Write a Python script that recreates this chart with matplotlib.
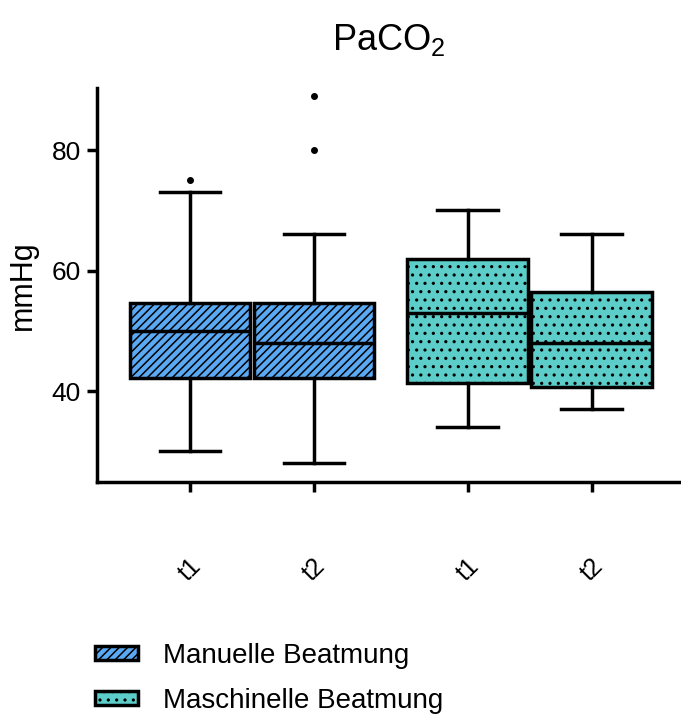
import matplotlib
matplotlib.use("Agg")
import matplotlib.pyplot as plt
from matplotlib.patches import Patch

plt.rcParams["font.family"] = ["Liberation Sans", "DejaVu Sans"]
plt.rcParams["mathtext.fontset"] = "custom"
plt.rcParams["mathtext.rm"] = "Liberation Sans"
plt.rcParams["hatch.linewidth"] = 1.1

# PaCO2 (mmHg) per ventilation mode and time point
groups = ["Manuelle Beatmung", "Maschinelle Beatmung"]
tick_labels = ["t1", "t2", "t1", "t2"]
q1 = [42.1, 42.1, 41.4, 40.6]
median = [50.0, 48.0, 52.9, 48.0]
q3 = [54.6, 54.6, 61.9, 56.4]
whisker_low = [30.0, 28.0, 34.0, 37.0]
whisker_high = [73.0, 66.0, 70.0, 66.0]
outliers = [[75.0], [80.0, 89.0], [], []]
box_group = [0, 0, 1, 1]

colors = ["#5aa9f4", "#5ccdc8"]
hatches = ["////", ".."]
positions = [0, 1, 2.24, 3.24]

stats = []
for i in range(len(median)):
    stats.append(dict(med=median[i], q1=q1[i], q3=q3[i],
                      whislo=whisker_low[i], whishi=whisker_high[i],
                      fliers=outliers[i]))

fig = plt.figure(figsize=(6.81, 7.18), dpi=100)
ax = fig.add_axes([97 / 681, 236 / 718, 584 / 681, 394 / 718])

lw = 2.5
parts = ax.bxp(stats, positions=positions, widths=0.975, patch_artist=True,
               capwidths=0.49,
               boxprops=dict(linewidth=lw, edgecolor="black"),
               medianprops=dict(linewidth=lw, color="black"),
               whiskerprops=dict(linewidth=lw, color="black"),
               capprops=dict(linewidth=lw, color="black"),
               flierprops=dict(marker="o", markersize=4,
                               markerfacecolor="black", markeredgecolor="black"))
for box, g in zip(parts["boxes"], box_group):
    box.set_facecolor(colors[g])
    box.set_hatch(hatches[g])

ax.set_xlim(-0.75, 3.96)
ax.set_ylim(24.9, 90.3)
ax.set_yticks([40, 60, 80])
ax.set_xticks(positions)
ax.set_xticklabels(tick_labels, rotation=45, ha="center", va="center")

for s in ["top", "right"]:
    ax.spines[s].set_visible(False)
for s in ["left", "bottom"]:
    ax.spines[s].set_linewidth(lw)

ax.tick_params(axis="y", length=7.5, width=lw, labelsize=19, pad=4)
ax.tick_params(axis="x", length=7.5, width=lw, labelsize=18, pad=56)

ax.set_ylabel("mmHg", fontsize=22, labelpad=10)
ax.set_title("PaCO$_\\mathregular{2}$", fontsize=26, pad=27)

handles = [Patch(facecolor=colors[i], edgecolor="black", hatch=hatches[i],
                 linewidth=lw, label=groups[i]) for i in range(2)]
fig.legend(handles=handles, loc="upper left",
           bbox_to_anchor=(95 / 681, 1 - 643 / 718), frameon=False,
           fontsize=20, handlelength=1.55, handleheight=0.4,
           handletextpad=0.9, labelspacing=0.68, borderpad=0, borderaxespad=0)

fig.savefig("out.png", dpi=100)
